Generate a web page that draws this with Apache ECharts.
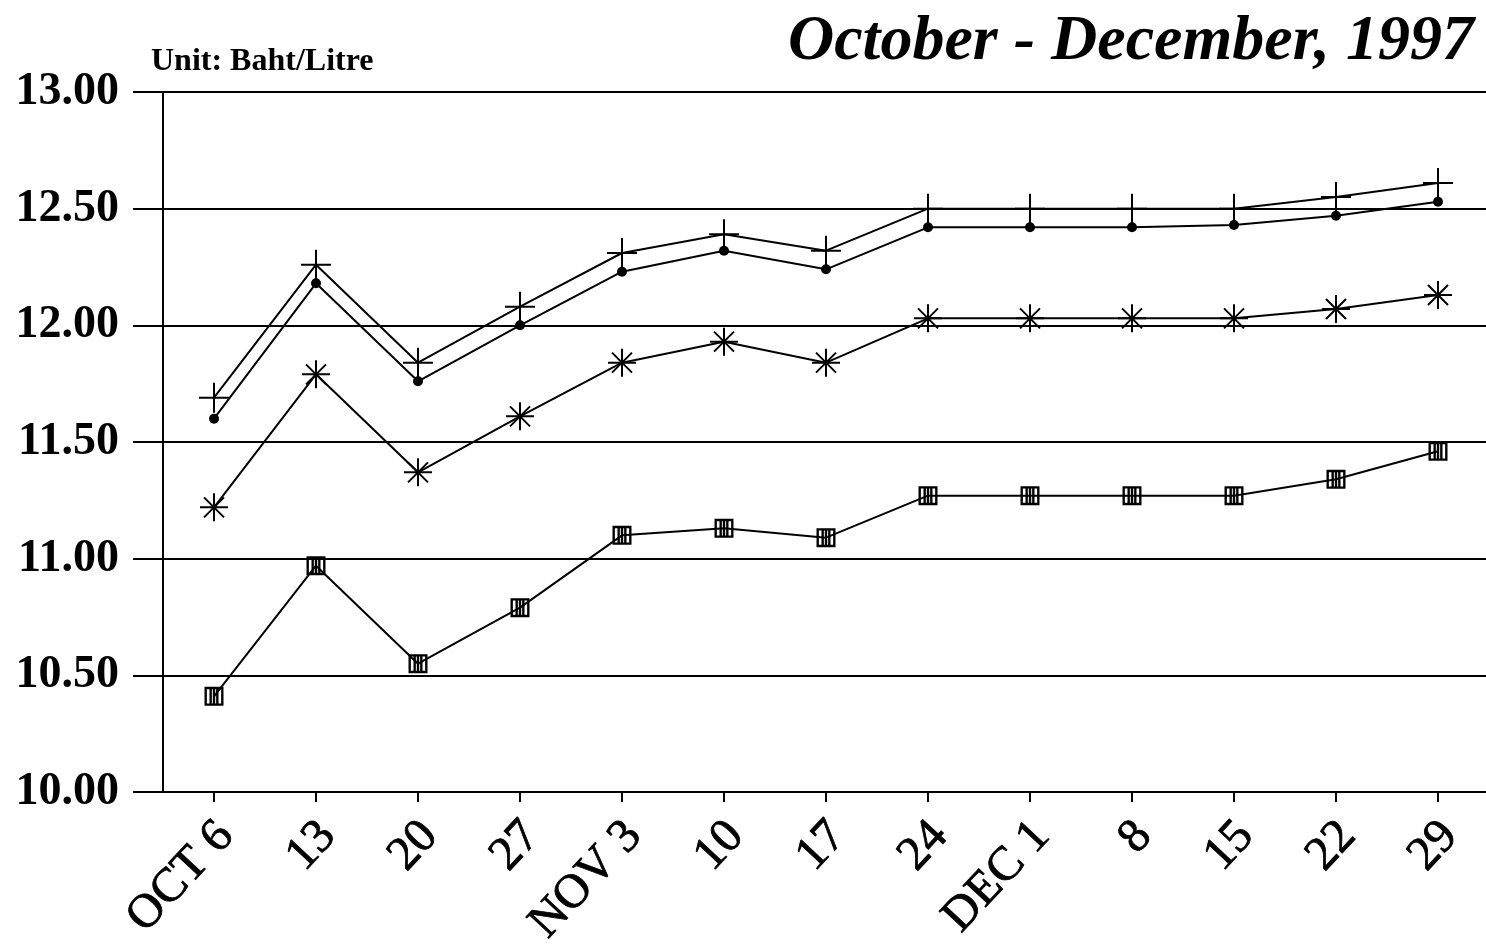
<!DOCTYPE html>
<html>
<head>
<meta charset="utf-8">
<script src="https://cdn.jsdelivr.net/npm/echarts@6/dist/echarts.min.js"></script>
<style>
html,body{margin:0;padding:0;background:#fff;}
#chart{width:1486px;height:944px;}
</style>
</head>
<body>
<div id="chart"></div>
<script>
const categories = ['OCT 6','13','20','27','NOV 3','10','17','24','DEC 1','8','15','22','29'];
const seriesPlus = [11.69, 12.26, 11.84, 12.08, 12.31, 12.39, 12.32, 12.50, 12.50, 12.50, 12.50, 12.55, 12.61];
const seriesDot = [11.60, 12.18, 11.76, 12.00, 12.23, 12.32, 12.24, 12.42, 12.42, 12.42, 12.43, 12.47, 12.53];
const seriesStar = [11.22, 11.79, 11.37, 11.61, 11.84, 11.93, 11.84, 12.03, 12.03, 12.03, 12.03, 12.07, 12.13];
const seriesSquare = [10.41, 10.97, 10.55, 10.79, 11.10, 11.13, 11.09, 11.27, 11.27, 11.27, 11.27, 11.34, 11.46];
const yTicks = [10.0, 10.5, 11.0, 11.5, 12.0, 12.5, 13.0];

const plusPath = 'path://M0,-15 L0,15 M-15,0 L15,0';
const starPath = 'path://M0,-14 L0,14 M-14,0 L14,0 M-10,-10 L10,10 M10,-10 L-10,10';
const squarePath = 'path://M0,0 H16 V16 H0 Z M2,2 V14 H14 V2 Z M4.2,2 h2 v12 h-2 z M7,2 h2 v12 h-2 z M9.8,2 h2 v12 h-2 z';

const chart = echarts.init(document.getElementById('chart'));
const font = 'Liberation Serif';
function lineSeries(data, symbol, size, stroke) {
  return {
    type: 'line',
    data: data,
    symbol: symbol,
    symbolSize: size,
    showAllSymbol: true,
    animation: false,
    lineStyle: { color: '#000', width: 2 },
    itemStyle: { color: '#000', borderColor: '#000', borderWidth: stroke },
    z: 3
  };
}
chart.setOption({
  backgroundColor: '#fff',
  animation: false,
  title: [
    { text: 'October - December, 1997', right: 7, top: 5,
      textStyle: { fontFamily: font, fontSize: 64, fontWeight: 'bold', fontStyle: 'italic', color: '#000' } },
    { text: 'Unit: Baht/Litre', left: 146, top: 41,
      textStyle: { fontFamily: font, fontSize: 32, fontWeight: 'bold', color: '#000' } }
  ],
  grid: { left: 163, top: 92, width: 1326, height: 700, containLabel: false, outerBoundsMode: 'none' },
  xAxis: {
    type: 'category',
    data: categories,
    boundaryGap: true,
    axisLine: { show: true, lineStyle: { color: '#000', width: 2 } },
    axisTick: { show: true, alignWithLabel: true, length: 10, lineStyle: { color: '#000', width: 2 } },
    axisLabel: { rotate: 47, margin: 20, verticalAlign: 'top', fontFamily: font, fontSize: 48,
      lineHeight: 40, padding: [0, 4, 0, 0],
      color: '#000', interval: 0, textBorderColor: '#000', textBorderWidth: 0.8 },
    splitLine: { show: false }
  },
  yAxis: {
    type: 'value',
    min: yTicks[0],
    max: yTicks[yTicks.length - 1],
    interval: 0.5,
    axisLine: { show: true, lineStyle: { color: '#000', width: 2 } },
    axisTick: { show: true, length: 30, lineStyle: { color: '#000', width: 2 } },
    axisLabel: { margin: 44, fontFamily: font, fontSize: 46, fontWeight: 'bold', color: '#000',
      formatter: v => v.toFixed(2) },
    splitLine: { show: true, lineStyle: { color: '#000', width: 2 } }
  },
  series: [
    lineSeries(seriesPlus, plusPath, 30, 2),
    lineSeries(seriesDot, 'circle', 10, 0),
    lineSeries(seriesStar, starPath, 28, 2),
    lineSeries(seriesSquare, squarePath, 19, 0)
  ]
});
</script>
</body>
</html>
